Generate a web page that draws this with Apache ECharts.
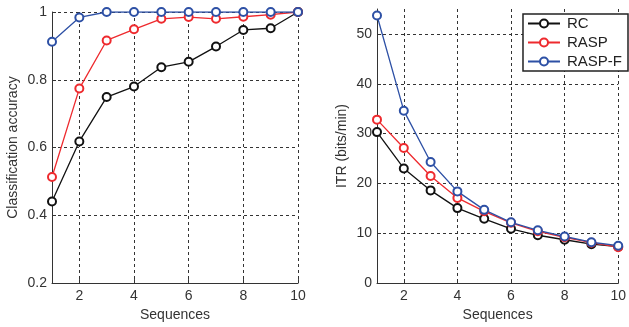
<!DOCTYPE html>
<html>
<head>
<meta charset="utf-8">
<script src="https://cdn.jsdelivr.net/npm/echarts@6/dist/echarts.min.js"></script>
<style>
  html, body { margin: 0; padding: 0; background: #fff; }
  #chart { width: 629px; height: 327px; }
</style>
</head>
<body>
<div id="chart"></div>
<script>
const sequences = [1, 2, 3, 4, 5, 6, 7, 8, 9, 10];
const seqTicks = [2, 4, 6, 8, 10];

// classification accuracy
const accRC = [0.441, 0.618, 0.749, 0.780, 0.837, 0.853, 0.898, 0.947, 0.952, 1.0];
const accRASP = [0.513, 0.774, 0.916, 0.949, 0.980, 0.985, 0.980, 0.986, 0.992, 1.0];
const accRASPF = [0.912, 0.984, 1.0, 1.0, 1.0, 1.0, 1.0, 1.0, 1.0, 1.0];

// ITR (bits/min)
const itrRC = [30.3, 23.0, 18.6, 15.05, 12.9, 10.9, 9.6, 8.7, 7.8, 7.3];
const itrRASP = [32.8, 27.1, 21.5, 17.1, 14.4, 12.1, 10.4, 9.2, 8.1, 7.2];
const itrRASPF = [53.7, 34.6, 24.3, 18.4, 14.7, 12.2, 10.6, 9.35, 8.2, 7.5];
const itrTicks = [0, 10, 20, 30, 40, 50];

const COLORS = { RC: "#111111", RASP: "#ee2a2e", "RASP-F": "#2d50a5" };
const FONT = "Liberation Sans";
const gridLine = { show: true, lineStyle: { color: "#333", type: [3, 3], width: 1 } };
const axisLine = { show: true, lineStyle: { color: "#333", width: 1 } };
const label = { color: "#333", fontSize: 14, fontFamily: FONT };

const zip = (ys) => sequences.map((x, i) => [x, ys[i]]);

function line(name, ys, idx) {
  return {
    name,
    type: "line",
    xAxisIndex: idx,
    yAxisIndex: idx,
    data: zip(ys),
    symbol: "emptyCircle",
    symbolSize: 8,
    color: COLORS[name],
    lineStyle: { width: 1.3, color: COLORS[name] },
    itemStyle: { color: COLORS[name], borderWidth: 1.3 },
    animation: false,
  };
}

const xAxisBase = (idx) => ({
  gridIndex: idx,
  type: "value",
  min: 1,
  max: 10,
  name: "Sequences",
  nameLocation: "middle",
  nameGap: 20,
  nameTextStyle: { ...label },
  axisLine,
  axisTick: { show: true, inside: true, length: 4, customValues: seqTicks, lineStyle: { color: "#333" } },
  axisLabel: { ...label, margin: 6, customValues: seqTicks },
  splitLine: gridLine,
});

const chart = echarts.init(document.getElementById("chart"), null, { renderer: "canvas" });
chart.setOption({
  backgroundColor: "#fff",
  animation: false,
  legend: {
    data: ["RC", "RASP", "RASP-F"],
    orient: "vertical",
    right: 1,
    top: 14,
    itemWidth: 32,
    itemHeight: 10,
    itemGap: 4,
    padding: [2, 6, 2, 4],
    backgroundColor: "#fff",
    borderColor: "#222",
    borderWidth: 1.5,
    borderRadius: 0,
    textStyle: { color: "#222", fontSize: 15, fontFamily: FONT, padding: [0, 0, 0, 2] },
  },
  grid: [
    { left: 52, top: 12, width: 246, height: 275 },
    { left: 377, top: 9, width: 247, height: 277 },
  ],
  xAxis: [xAxisBase(0), xAxisBase(1)],
  yAxis: [
    {
      gridIndex: 0,
      type: "value",
      min: 0.2,
      max: 1,
      interval: 0.2,
      name: "Classification accuracy",
      nameLocation: "middle",
      nameGap: 32,
      nameTextStyle: { ...label },
      axisLine,
      axisTick: { show: true, inside: true, length: 4, lineStyle: { color: "#333" } },
      axisLabel: { ...label, margin: 5, formatter: (v) => (Math.abs(v - 1) < 1e-6 ? "1" : v.toFixed(1)) },
      splitLine: gridLine,
    },
    {
      gridIndex: 1,
      type: "value",
      min: 0,
      max: 55,
      name: "ITR (bits/min)",
      nameLocation: "middle",
      nameGap: 28,
      nameTextStyle: { ...label },
      axisLine,
      axisTick: { show: true, inside: true, length: 4, customValues: itrTicks, lineStyle: { color: "#333" } },
      axisLabel: { ...label, margin: 5, customValues: itrTicks },
      splitLine: gridLine,
    },
  ],
  series: [
    line("RC", accRC, 0),
    line("RASP", accRASP, 0),
    line("RASP-F", accRASPF, 0),
    line("RC", itrRC, 1),
    line("RASP", itrRASP, 1),
    line("RASP-F", itrRASPF, 1),
  ],
});
</script>
</body>
</html>
